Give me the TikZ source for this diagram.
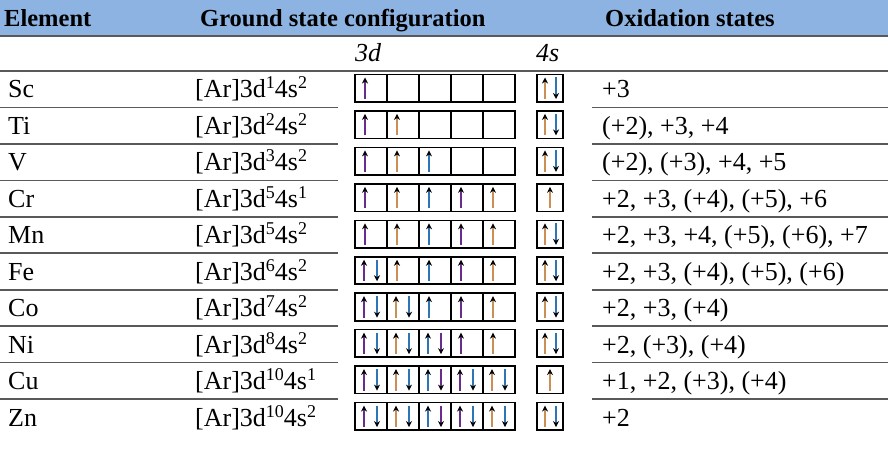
\documentclass[tikz,border=0pt]{standalone}
\usepackage{fontspec}
\setmainfont{Liberation Serif}
\usetikzlibrary{arrows.meta}
\definecolor{hdr}{HTML}{8DB3E2}
\definecolor{cpur}{HTML}{6A2C8C}
\definecolor{ctan}{HTML}{C98F55}
\definecolor{cblu}{HTML}{2E75B6}
\newcommand\mysup[1]{\raisebox{9pt}{\fontsize{18}{20}\selectfont #1}}
\tikzset{
  txt/.style={anchor=base west,inner sep=0pt,font=\fontsize{26}{30}\selectfont},
  hd/.style={anchor=base west,inner sep=0pt,font=\fontsize{24.5}{28}\selectfont\bfseries},
  sep/.style={draw=black!65,line width=1.6pt},
  obox/.style={draw=black,line width=1.6pt},
  spin/.style={line width=1.8pt,-{Stealth[length=6pt,width=6pt,black]}},
}
\begin{document}
\begin{tikzpicture}[x=1pt,y=1pt]
\useasboundingbox (0,0) rectangle (888,448);
\fill[hdr] (0,448) rectangle (888,413);
\draw[sep] (0,412) -- (888,412);
\node[hd] (h1) at (4,421) {Element};
\node[hd] (h2) at (200,421) {Ground state configuration};
\node[hd] (h3) at (605,421) {Oxidation states};
\node[txt,font=\fontsize{26}{30}\selectfont\itshape] (d3) at (355,386) {3d};
\node[txt,font=\fontsize{26}{30}\selectfont\itshape] (s4) at (536,386) {4s};
\draw[sep] (0,377) -- (888,377);
\def\rh{36.45}
\foreach \el/\cfg/\ox/\dd/\ss [count=\r from 0] in {
 Sc/{[Ar]3d\mysup{1}4s\mysup{2}}/{+3}/{1,0,0,0,0}/2,
 Ti/{[Ar]3d\mysup{2}4s\mysup{2}}/{(+2), +3, +4}/{1,1,0,0,0}/2,
 V/{[Ar]3d\mysup{3}4s\mysup{2}}/{(+2), (+3), +4, +5}/{1,1,1,0,0}/2,
 Cr/{[Ar]3d\mysup{5}4s\mysup{1}}/{+2, +3, (+4), (+5), +6}/{1,1,1,1,1}/1,
 Mn/{[Ar]3d\mysup{5}4s\mysup{2}}/{+2, +3, +4, (+5), (+6), +7}/{1,1,1,1,1}/2,
 Fe/{[Ar]3d\mysup{6}4s\mysup{2}}/{+2, +3, (+4), (+5), (+6)}/{2,1,1,1,1}/2,
 Co/{[Ar]3d\mysup{7}4s\mysup{2}}/{+2, +3, (+4)}/{2,2,1,1,1}/2,
 Ni/{[Ar]3d\mysup{8}4s\mysup{2}}/{+2, (+3), (+4)}/{2,2,2,1,1}/2,
 Cu/{[Ar]3d\mysup{10}4s\mysup{1}}/{+1, +2, (+3), (+4)}/{2,2,2,2,2}/1,
 Zn/{[Ar]3d\mysup{10}4s\mysup{2}}/{+2}/{2,2,2,2,2}/2}{
  \pgfmathsetmacro\top{377-\r*\rh}
  \pgfmathsetmacro\bas{\top-27}
  \pgfmathsetmacro\bt{\top-3.5}
  \pgfmathsetmacro\bb{\top-31}
  \node[txt] (el\r) at (8,\bas) {\el};
  \node[txt] (cf\r) at (195,\bas) {\cfg};
  \node[txt] (ox\r) at (602,\bas) {\ox};
  \ifnum\r<9
    \pgfmathsetmacro\ln{\top-\rh}
    \draw[sep] (0,\ln) -- (338,\ln);
    \draw[sep] (592,\ln) -- (888,\ln);
  \fi
  \foreach \v [count=\i from 0] in \dd {
    \pgfmathsetmacro\xa{355+32*\i}
    \draw[obox] (\xa,\bb) rectangle ++(32,27.5);
    \pgfmathtruncatemacro\cc{mod(\i,3)}
    \ifcase\cc \def\cu{cpur}\def\cd{cblu}\or \def\cu{ctan}\def\cd{cblu}\or \def\cu{cblu}\def\cd{cpur}\fi
    \ifnum\v=1
      \draw[spin,\cu] (\xa+10,\bb+3) -- (\xa+10,\bt-3);
    \fi
    \ifnum\v=2
      \draw[spin,\cu] (\xa+9,\bb+3) -- (\xa+9,\bt-3);
      \draw[spin,\cd] (\xa+22,\bt-3) -- (\xa+22,\bb+3);
    \fi
  }
  \draw[obox] (537,\bb) rectangle ++(26,27.5);
  \ifnum\ss=1
    \draw[spin,ctan] (550,\bb+3) -- (550,\bt-3);
  \else
    \draw[spin,ctan] (545,\bb+3) -- (545,\bt-3);
    \draw[spin,cblu] (556,\bt-3) -- (556,\bb+3);
  \fi
}
\end{tikzpicture}
\end{document}
